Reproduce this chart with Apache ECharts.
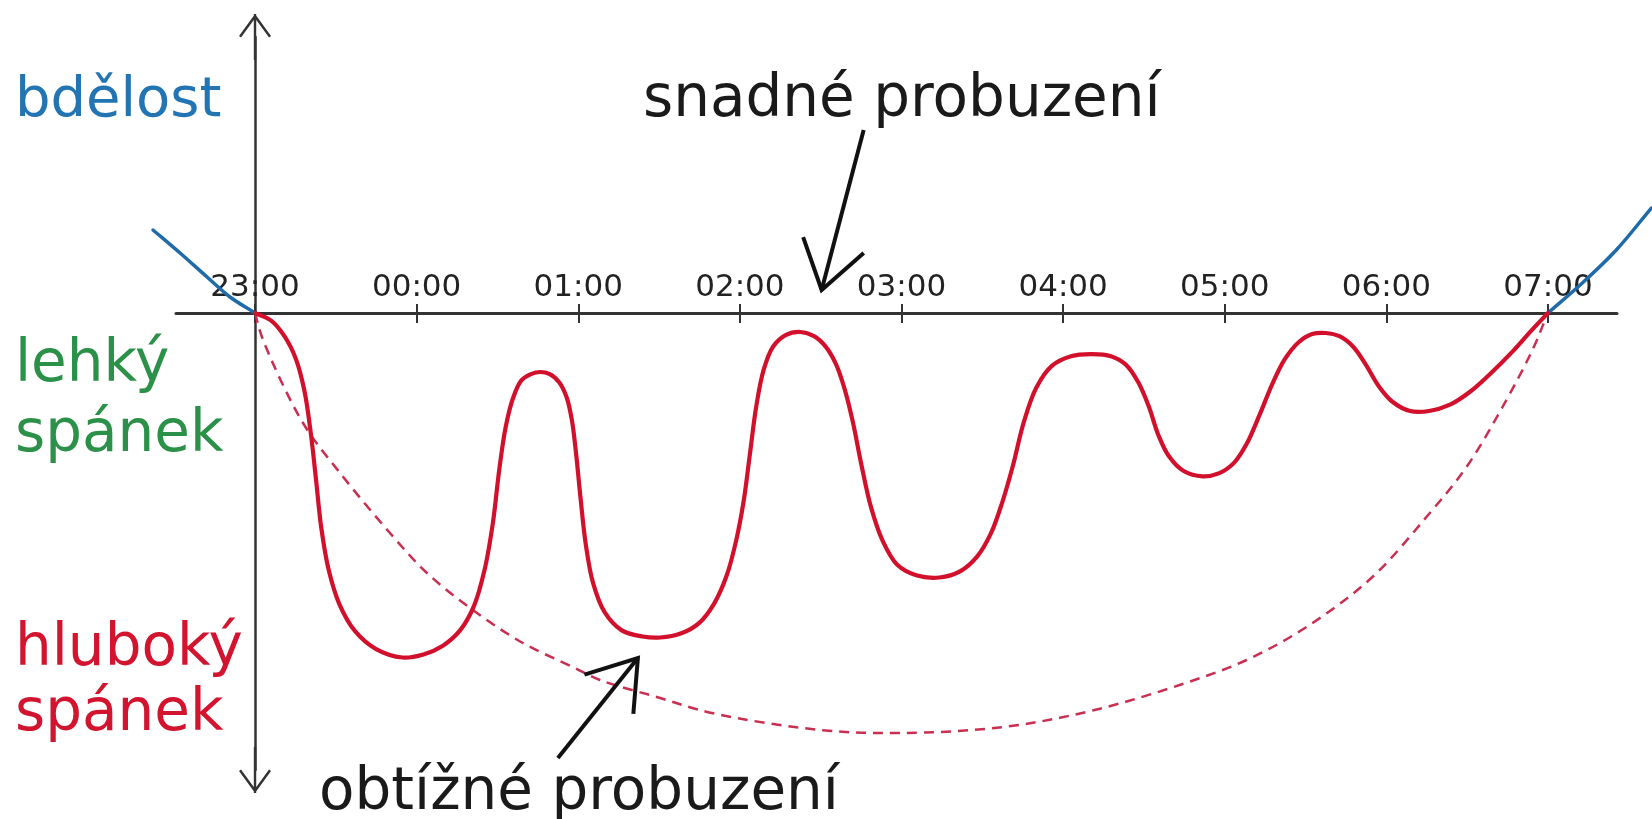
<!DOCTYPE html>
<html>
<head>
<meta charset="utf-8">
<script src="https://cdn.jsdelivr.net/npm/echarts@6/dist/echarts.min.js"></script>
<style>
html,body{margin:0;padding:0;background:#fff;}
#chart{width:1652px;height:819px;}
</style>
</head>
<body>
<div id="chart"></div>
<script>
// ---- data (x = hours after 23:00, y = sleep level; 0 = boundary wake/sleep) ----
const timeLabels = ['23:00','00:00','01:00','02:00','03:00','04:00','05:00','06:00','07:00'];
const tickHours = [0, 1, 2, 3, 4, 5, 6, 7, 8];

const sleepHours = [0, 0.098, 0.182, 0.254, 0.306, 0.345, 0.378, 0.410, 0.456, 0.521, 0.619, 0.749, 0.912,
  1.042, 1.160, 1.270, 1.355, 1.420, 1.472, 1.511, 1.550, 1.596, 1.648, 1.707, 1.765, 1.824, 1.883,
  1.928, 1.961, 1.987, 2.013, 2.046, 2.091, 2.163, 2.267, 2.397, 2.508, 2.638, 2.749, 2.840, 2.919,
  2.977, 3.023, 3.062, 3.101, 3.147, 3.205, 3.283, 3.375, 3.459, 3.531, 3.596, 3.648, 3.700, 3.752,
  3.811, 3.883, 3.974, 4.091, 4.235, 4.365, 4.469, 4.554, 4.625, 4.691, 4.756, 4.834, 4.932, 5.049,
  5.179, 5.296, 5.388, 5.466, 5.531, 5.590, 5.655, 5.746, 5.863, 5.967, 6.059, 6.137, 6.215, 6.293,
  6.371, 6.456, 6.541, 6.625, 6.710, 6.795, 6.873, 6.951, 7.036, 7.147, 7.264, 7.394, 7.524, 7.655,
  7.785, 7.896, 8.0];
const sleepDepth = [0, -0.74, -2.32, -4.64, -7.80, -12.01, -16.75, -21.49, -25.71, -29.08, -31.82, -33.61, -34.45,
  -34.14, -33.29, -31.71, -29.29, -25.71, -20.97, -15.70, -11.48, -8.53, -6.74, -6.11, -5.90, -6.11, -6.95,
  -8.43, -10.75, -14.12, -18.33, -23.07, -26.97, -29.92, -31.71, -32.35, -32.45, -32.03, -30.98, -29.08, -26.23,
  -22.76, -18.86, -14.12, -9.38, -5.69, -3.37, -2.21, -1.90, -2.32, -3.37, -5.16, -7.59, -10.96, -15.17,
  -19.39, -22.76, -25.18, -26.23, -26.45, -25.81, -24.34, -22.02, -18.86, -15.17, -10.96, -7.48, -5.27, -4.32,
  -4.11, -4.32, -5.16, -6.95, -9.38, -12.22, -14.33, -15.80, -16.33, -16.01, -14.96, -13.06, -10.22, -7.16,
  -4.64, -2.95, -2.11, -2.00, -2.32, -3.37, -5.16, -7.27, -8.85, -9.80, -9.80, -9.17, -7.80, -5.90,
  -3.79, -1.79, 0];

const thresholdHours = [0, 0.05, 0.297, 0.526, 0.835, 1.064, 1.348, 1.657, 1.967, 2.134, 2.486, 2.826,
  3.5, 3.989, 4.632, 5.195, 5.758, 6.135, 6.506, 6.914, 7.248, 7.496, 7.743, 7.904, 8.0];
const thresholdDepth = [0, -2.7, -11.0, -16.0, -22.0, -26.0, -29.7, -33.0, -35.4, -36.7, -38.4, -40.0,
  -41.7, -42.0, -41.4, -39.7, -37.0, -34.7, -31.4, -26.4, -20.4, -15.4, -8.7, -3.7, 0];

const wakeBeforeHours = [-0.631, -0.464, -0.297, -0.155, 0];
const wakeBeforeLevel = [8.3, 6.0, 3.6, 1.6, 0];
const wakeAfterHours = [8.0, 8.213, 8.423, 8.64];
const wakeAfterLevel = [0, 3.0, 6.3, 10.5];

// annotation arrows: [tailHour, tailLevel, tipHour, tipLevel]
const arrowEasy = [3.766, 18.3, 3.506, 2.3];
const arrowHard = [1.874, -44.5, 2.369, -34.5];

const stageTexts = ['bdělost', 'lehký', 'spánek', 'hluboký', 'spánek'];
const noteTexts = ['snadné probuzení', 'obtížné probuzení'];

// ---- chart ----
const zip = (xs, ys) => xs.map((x, i) => [x, ys[i]]);
const FONT = '"DejaVu Sans", Verdana, sans-serif';
const AXIS_COLOR = '#333';
const chevron = 'path://M16,0 L32,22 L30,23.6 L16,4.2 L2,23.6 L0,22 Z M14.8,0 L17.2,0 L17.2,46 L14.8,46 Z';

// centripetal Catmull-Rom through pixel points -> SVG path
function crPath(pts) {
  const n = pts.length;
  const at = (i) => {
    if (i < 0) return [2 * pts[0][0] - pts[1][0], 2 * pts[0][1] - pts[1][1]];
    if (i >= n) return [2 * pts[n - 1][0] - pts[n - 2][0], 2 * pts[n - 1][1] - pts[n - 2][1]];
    return pts[i];
  };
  const dist = (a, b) => Math.max(1e-6, Math.hypot(a[0] - b[0], a[1] - b[1]));
  let d = 'M' + pts[0][0] + ',' + pts[0][1];
  for (let i = 0; i < n - 1; i++) {
    const p0 = at(i - 1), p1 = at(i), p2 = at(i + 1), p3 = at(i + 2);
    const a1 = dist(p0, p1), a2 = dist(p1, p2), a3 = dist(p2, p3);
    const d1 = Math.sqrt(a1), d2 = Math.sqrt(a2), d3 = Math.sqrt(a3);
    const b1 = [0, 1].map(k => (a1 * p2[k] - a2 * p0[k] + (2 * a1 + 3 * d1 * d2 + a2) * p1[k]) / (3 * d1 * (d1 + d2)));
    const b2 = [0, 1].map(k => (a3 * p1[k] - a2 * p3[k] + (2 * a3 + 3 * d3 * d2 + a2) * p2[k]) / (3 * d3 * (d3 + d2)));
    d += ' C' + b1[0] + ',' + b1[1] + ' ' + b2[0] + ',' + b2[1] + ' ' + p2[0] + ',' + p2[1];
  }
  return d;
}

function curveSeries(xs, ys, color, width, dash, z) {
  return {
    type: 'custom', coordinateSystem: 'cartesian2d', clip: false, silent: true, z: z,
    encode: { x: 0, y: 1 },
    data: zip(xs, ys),
    renderItem: function (params, api) {
      if (params.dataIndexInside !== 0) return null;
      const n = params.dataInsideLength || xs.length;
      const pts = [];
      for (let i = 0; i < n; i++) pts.push(api.coord([api.value(0, i), api.value(1, i)]));
      return {
        type: 'path', shape: { pathData: crPath(pts) },
        style: { stroke: color, lineWidth: width, fill: 'none', lineDash: dash || null,
                 lineJoin: 'round', lineCap: dash ? 'butt' : 'round' }
      };
    }
  };
}

function textEl(txt, x, y, color, size) {
  return {
    type: 'text', x: x, y: y, silent: true, z: 10,
    style: { text: txt, font: (size || 58) + 'px ' + FONT, fill: color, verticalAlign: 'middle', align: 'left' }
  };
}

const hiddenY = (gi) => ({ type: 'value', gridIndex: gi, min: 0, max: 1, show: false });

const chart = echarts.init(document.getElementById('chart'), null, { renderer: 'canvas' });
chart.setOption({
  animation: false,
  backgroundColor: '#fff',
  grid: [
    { left: 0, right: 0, top: 37, bottom: 49, outerBoundsMode: 'none' },
    { left: 176, right: 35, top: 313, height: 60, outerBoundsMode: 'none' },
    { left: 176, right: 35, top: 313, height: 60, outerBoundsMode: 'none' }
  ],
  xAxis: [
    { type: 'value', gridIndex: 0, min: -1.578, max: 8.644, show: false },
    {
      type: 'value', gridIndex: 1, min: -0.489, max: 8.427, position: 'top',
      axisLine: { show: true, onZero: false, lineStyle: { color: AXIS_COLOR, width: 3 } },
      axisTick: { show: true, customValues: tickHours, length: 9, inside: false,
                  lineStyle: { color: AXIS_COLOR, width: 2 } },
      axisLabel: { show: true, customValues: tickHours, margin: 10,
                   fontFamily: FONT, fontSize: 31, color: '#222',
                   formatter: v => timeLabels[tickHours.indexOf(Math.round(v))] || '' },
      splitLine: { show: false }
    },
    {
      type: 'value', gridIndex: 2, min: -0.489, max: 8.427, position: 'top',
      axisLine: { show: false, onZero: false },
      axisTick: { show: true, customValues: tickHours, length: 10, inside: true,
                  lineStyle: { color: AXIS_COLOR, width: 2 } },
      axisLabel: { show: false },
      splitLine: { show: false }
    }
  ],
  yAxis: [
    {
      type: 'value', gridIndex: 0, min: -45.7, max: 27.6,
      axisLine: { show: true, onZero: true, symbol: [chevron, chevron], symbolSize: [32, 46],
                  lineStyle: { color: AXIS_COLOR, width: 2.5 } },
      axisTick: { show: false }, axisLabel: { show: false }, splitLine: { show: false }
    },
    hiddenY(1),
    hiddenY(2)
  ],
  series: [
    curveSeries(thresholdHours, thresholdDepth, '#c92f50', 2.5, [10, 7], 2),
    curveSeries(sleepHours, sleepDepth, '#d2102c', 4.2, null, 4),
    curveSeries(wakeBeforeHours, wakeBeforeLevel, '#1f6aa8', 3.5, null, 3),
    curveSeries(wakeAfterHours, wakeAfterLevel, '#1f6aa8', 3.5, null, 3),
    {
      type: 'custom', coordinateSystem: 'cartesian2d', clip: false, z: 6, silent: true,
      encode: { x: [0, 2], y: [1, 3] },
      data: [arrowEasy, arrowHard],
      renderItem: function (params, api) {
        const tail = api.coord([api.value(0), api.value(1)]);
        const tip = api.coord([api.value(2), api.value(3)]);
        const dx = tail[0] - tip[0], dy = tail[1] - tip[1];
        const len = Math.sqrt(dx * dx + dy * dy);
        const ux = dx / len, uy = dy / len;
        const a = 34 * Math.PI / 180, L = 56;
        const rot = (ang) => [tip[0] + L * (ux * Math.cos(ang) - uy * Math.sin(ang)),
                              tip[1] + L * (ux * Math.sin(ang) + uy * Math.cos(ang))];
        const h1 = rot(a), h2 = rot(-a);
        const st = { stroke: '#111', lineWidth: 4, fill: 'none', lineJoin: 'miter', lineCap: 'butt' };
        return {
          type: 'group',
          children: [
            { type: 'line', shape: { x1: tail[0], y1: tail[1], x2: tip[0], y2: tip[1] }, style: st },
            { type: 'polyline', shape: { points: [h1, tip, h2] }, style: st }
          ]
        };
      }
    }
  ],
  graphic: [
    textEl(stageTexts[0], 15, 101, '#2274b3', 56),
    textEl(stageTexts[1], 15, 366, '#2b9148'),
    textEl(stageTexts[2], 15, 436, '#2b9148'),
    textEl(stageTexts[3], 15, 650, '#d3142f'),
    textEl(stageTexts[4], 15, 715, '#d3142f'),
    textEl(noteTexts[0], 643, 101, '#1a1a1a'),
    textEl(noteTexts[1], 319, 794, '#1a1a1a')
  ]
});
</script>
</body>
</html>
